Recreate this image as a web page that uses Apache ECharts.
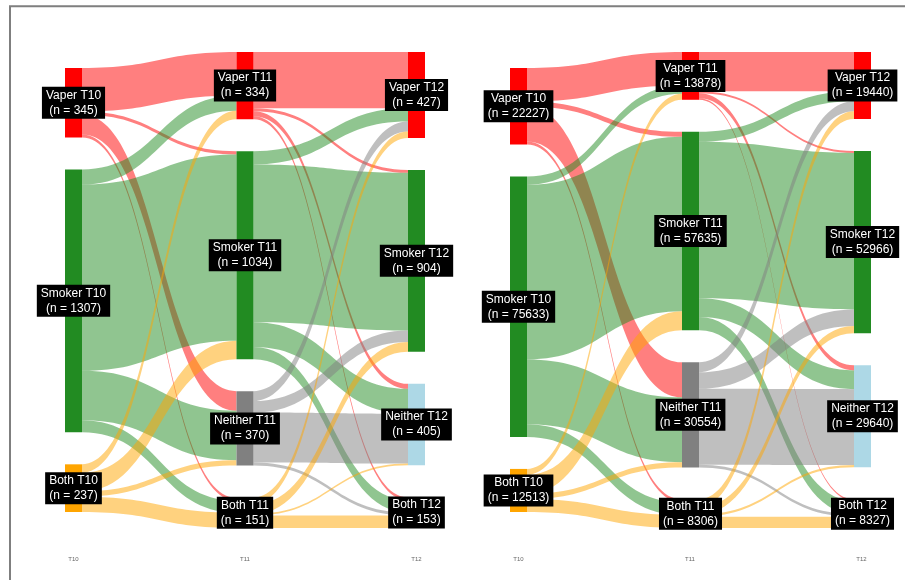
<!DOCTYPE html>
<html>
<head>
<meta charset="utf-8">
<script src="https://cdn.jsdelivr.net/npm/echarts@6/dist/echarts.min.js"></script>
<style>
  html, body { margin: 0; padding: 0; background: #ffffff; }
  #chart { width: 905px; height: 580px; }
</style>
</head>
<body>
<div id="chart"></div>
<script>
// Survey waves and the tobacco-use states tracked at each wave
const waves = ['T10', 'T11', 'T12'];
const statesT10 = ['Vaper', 'Smoker', 'Both'];
const states = ['Vaper', 'Smoker', 'Neither', 'Both'];

// Left cohort: transitions T10 -> T11 (rows: statesT10, columns: states)
const leftT10toT11 = [
  [216, 17, 97, 15],
  [76, 925, 246, 60],
  [42, 92, 27, 76]
];
// Left cohort: transitions T11 -> T12 (rows and columns: states)
const leftT11toT12 = [
  [280, 14, 25, 15],
  [66, 784, 124, 60],
  [49, 57, 248, 16],
  [32, 49, 8, 62]
];

// Right cohort: transitions T10 -> T11
const rightT10toT11 = [
  [9700, 1450, 10200, 877],
  [2430, 50685, 18854, 3664],
  [1748, 5500, 1500, 3765]
];
// Right cohort: transitions T11 -> T12
const rightT11toT12 = [
  [11400, 575, 1480, 423],
  [2920, 45465, 5446, 3804],
  [2920, 4810, 22024, 800],
  [2200, 2116, 690, 3300]
];

// Styling
const stateColor = { Vaper: '#ff0000', Smoker: '#228b22', Neither: '#808080', Both: '#ffa500' };
const neitherLastColor = '#add8e6';
const NODE_W = 17;
const NODE_GAP = 32;
const PLOT_TOP = 52;
const PLOT_H = 476;

const sum = a => a.reduce((s, v) => s + v, 0);

function buildSankey(flowsA, flowsB, left, width) {
  const cols = [statesT10, states, states];
  const colVals = [
    flowsA.map(r => sum(r)),
    states.map((_, j) => sum(flowsA.map(r => r[j]))),
    states.map((_, j) => sum(flowsB.map(r => r[j])))
  ];
  const total = sum(colVals[0]);
  const maxN = Math.max(...cols.map(c => c.length));
  const ky = (PLOT_H - (maxN - 1) * NODE_GAP) / total;

  // nodes: each column centred vertically inside the plot box
  const nodes = [];
  cols.forEach((col, c) => {
    const span = total * ky + (col.length - 1) * NODE_GAP;
    let y = (PLOT_H - span) / 2;
    col.forEach((s, i) => {
      const color = (s === 'Neither' && c === 2) ? neitherLastColor : stateColor[s];
      nodes.push({ name: s + ' ' + waves[c], localY: y / PLOT_H, itemStyle: { color: color } });
      y += colVals[c][i] * ky + NODE_GAP;
    });
  });

  const links = [];
  flowsA.forEach((row, i) => row.forEach((v, j) => {
    if (v > 0) links.push({ source: statesT10[i] + ' T10', target: states[j] + ' T11', value: v });
  }));
  flowsB.forEach((row, i) => row.forEach((v, j) => {
    if (v > 0) links.push({ source: states[i] + ' T11', target: states[j] + ' T12', value: v });
  }));

  return {
    type: 'sankey',
    left: left,
    top: PLOT_TOP,
    width: width,
    height: PLOT_H,
    nodeWidth: NODE_W,
    nodeGap: NODE_GAP,
    layoutIterations: 0,
    draggable: false,
    silent: true,
    emphasis: { disabled: true },
    data: nodes,
    links: links,
    itemStyle: { borderWidth: 0 },
    lineStyle: { color: 'source', opacity: 0.5, curveness: 0.5 },
    label: {
      show: true,
      position: 'inside',
      color: '#ffffff',
      backgroundColor: '#000000',
      padding: [1, 4],
      fontSize: 12,
      lineHeight: 15,
      fontFamily: 'Liberation Sans, Arial, sans-serif',
      formatter: p => p.name + '\n(n = ' + p.value + ')'
    }
  };
}

function waveAxisGrid(left) {
  return { left: left, width: 343, top: PLOT_TOP, height: 500 };
}

const chart = echarts.init(document.getElementById('chart'), null, { renderer: 'canvas' });
chart.setOption({
  backgroundColor: '#ffffff',
  animation: false,
  grid: [waveAxisGrid(73.5), waveAxisGrid(518.5)],
  xAxis: [0, 1].map(g => ({
    type: 'category',
    gridIndex: g,
    data: waves,
    boundaryGap: false,
    axisLine: { show: false },
    axisTick: { show: false },
    splitLine: { show: false },
    axisLabel: { fontSize: 6, color: '#666666', margin: 4, fontFamily: 'Liberation Sans, Arial, sans-serif' }
  })),
  yAxis: [0, 1].map(g => ({ type: 'value', gridIndex: g, show: false })),
  graphic: [{
    type: 'rect',
    silent: true,
    shape: { x: 10, y: 6.3, width: 1000, height: 1000 },
    style: { fill: 'none', stroke: '#7f7f7f', lineWidth: 2 }
  }],
  series: [
    buildSankey(leftT10toT11, leftT11toT12, 65, 360),
    buildSankey(rightT10toT11, rightT11toT12, 510, 361)
  ]
});
</script>
</body>
</html>
